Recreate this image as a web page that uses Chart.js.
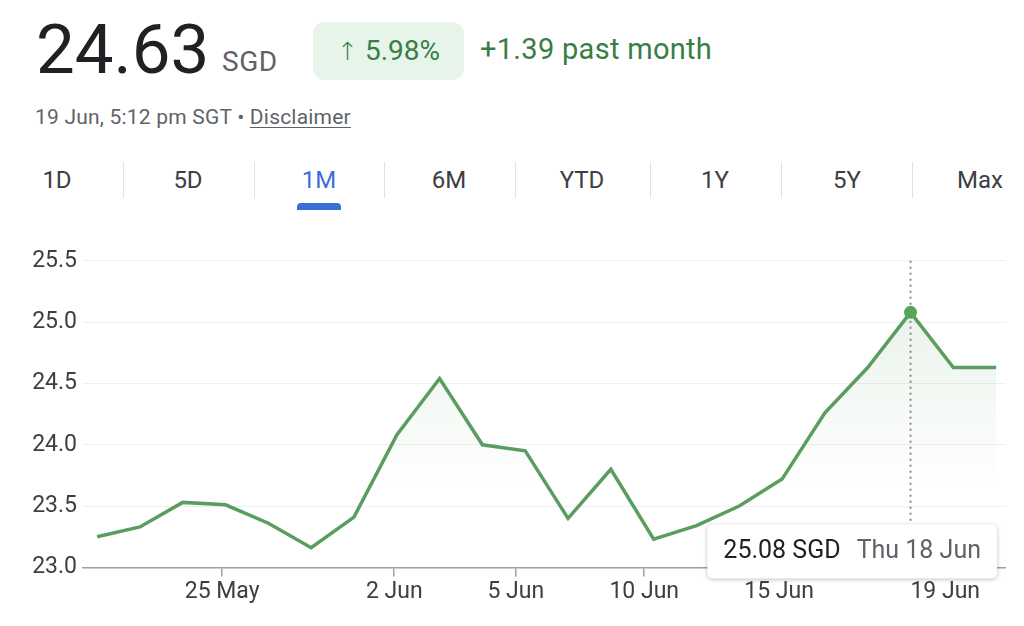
<!DOCTYPE html>
<html>
<head>
<meta charset="utf-8">
<script src="https://cdn.jsdelivr.net/npm/chart.js@4/dist/chart.umd.min.js"></script>
<style>
  html, body { margin: 0; padding: 0; background: #fff; }
  body { width: 1024px; height: 626px; position: relative; overflow: hidden; font-family: Roboto, "Noto Sans", sans-serif; }
  .abs { position: absolute; white-space: nowrap; }
  #price { left: 36px; top: 9px; font-size: 69px; color: #202124; }
  #cur { left: 222px; top: 45px; font-size: 28px; color: #5f6368; letter-spacing: 0.5px; }
  #badge { left: 313px; top: 22px; width: 151px; height: 58px; background: #e6f4ea; border-radius: 12px;
           color: #3a7d44; font-size: 28px; line-height: 58px; text-align: center; }
  #badge .arr { font-family: "DejaVu Sans", sans-serif; font-size: 25px; font-weight: 300; }
  #change { left: 480px; top: 32px; font-size: 29px; color: #3a7d44; letter-spacing: 0.3px; }
  #stamp { left: 35px; top: 105px; font-size: 21px; color: #5f6368; letter-spacing: 0.2px; }
  #stamp u { text-decoration-thickness: 1px; text-underline-offset: 3px; }
  .tab { top: 166px; font-size: 24px; color: #3c4043; transform: translateX(-50%); }
  .sep { top: 162px; width: 1px; height: 36px; background: #e3e3e3; }
  #bar { left: 297px; top: 203px; width: 44px; height: 7px; background: #3b6fd6; border-radius: 4px 4px 0 0; }
  #wrap { position: absolute; left: 0; top: 241px; width: 1006px; height: 367px; }
</style>
</head>
<body>
<div class="abs" id="price">24.63</div>
<div class="abs" id="cur">SGD</div>
<div class="abs" id="badge"><span class="arr">↑</span> 5.98%</div>
<div class="abs" id="change">+1.39 past month</div>
<div class="abs" id="stamp">19 Jun, 5:12 pm SGT • <u>Disclaimer</u></div>
<div id="tabs"></div>
<div class="abs" id="bar"></div>
<div id="wrap"><canvas id="chart"></canvas></div>
<script>
// trading days, 20 May - 19 Jun (last point = live price)
const dates = ['20 May', '21 May', '22 May', '25 May', '26 May', '28 May', '29 May',
  '2 Jun', '3 Jun', '4 Jun', '5 Jun', '8 Jun', '9 Jun', '10 Jun', '11 Jun', '12 Jun',
  '15 Jun', '16 Jun', '17 Jun', '18 Jun', '19 Jun', '19 Jun'];
const prices = [23.25, 23.33, 23.53, 23.51, 23.36, 23.16, 23.41,
  24.08, 24.54, 24.00, 23.95, 23.40, 23.80, 23.23, 23.34,
  23.50, 23.72, 24.26, 24.63, 25.08, 24.63, 24.63];
// x tick labels and where they sit, in trading-day units
const tickLabels = ['25 May', '2 Jun', '5 Jun', '10 Jun', '15 Jun', '19 Jun'];
const tickAt = [2.92, 6.94, 9.78, 12.78, 15.93, 19.81];
const yTicks = [23.0, 23.5, 24.0, 24.5, 25.0, 25.5];
const ranges = ['1D', '5D', '1M', '6M', 'YTD', '1Y', '5Y', 'Max'];
const hoverIdx = 19;
const hoverLabel = 'Thu 18 Jun';

// range tabs
const tabX = [57, 188, 319, 449, 582, 715, 847, 980];
const sepX = [123, 254, 384, 515, 650, 781, 912];
const tabs = document.getElementById('tabs');
ranges.forEach(function(r, i) {
    const d = document.createElement('div');
    d.className = 'abs tab';
    d.style.left = tabX[i] + 'px';
    if (r === '1M') d.style.color = '#3b6fd6';
    d.textContent = r;
    tabs.appendChild(d);
});
sepX.forEach(function(x) {
    const s = document.createElement('div');
    s.className = 'abs sep';
    s.style.left = x + 'px';
    tabs.appendChild(s);
});

const green = '#5a9e5f';
const font = { family: 'Roboto, "Noto Sans", sans-serif', size: 23 };

// dotted hover line, marker and tooltip box
const hoverPlugin = {
    id: 'hover',
    afterDatasetsDraw(chart) {
        const ctx = chart.ctx;
        const area = chart.chartArea;
        const pt = chart.getDatasetMeta(0).data[hoverIdx];
        const boxTop = area.bottom - 43, boxBottom = area.bottom + 11;
        ctx.save();
        ctx.strokeStyle = '#8a8a8a';
        ctx.lineWidth = 2;
        ctx.setLineDash([2, 4]);
        ctx.beginPath();
        ctx.moveTo(pt.x, area.top);
        ctx.lineTo(pt.x, boxTop);
        ctx.stroke();
        ctx.setLineDash([]);
        ctx.fillStyle = '#57a45b';
        ctx.beginPath();
        ctx.arc(pt.x, pt.y, 6.5, 0, Math.PI * 2);
        ctx.fill();

        ctx.font = '25px Roboto, "Noto Sans", sans-serif';
        const t1 = prices[hoverIdx].toFixed(2) + ' SGD';
        const w1 = ctx.measureText(t1).width;
        const w2 = ctx.measureText(hoverLabel).width;
        const right = area.right - 9;
        const left = right - (w1 + w2 + 16 + 32);
        ctx.shadowColor = 'rgba(0,0,0,0.25)';
        ctx.shadowBlur = 4;
        ctx.shadowOffsetY = 1;
        ctx.fillStyle = '#fff';
        ctx.beginPath();
        ctx.roundRect(left, boxTop, right - left, boxBottom - boxTop, 5);
        ctx.fill();
        ctx.shadowColor = 'transparent';
        ctx.textBaseline = 'middle';
        ctx.fillStyle = '#202124';
        const ty = (boxTop + boxBottom) / 2;
        ctx.fillText(t1, left + 16, ty);
        ctx.fillStyle = '#5f6368';
        ctx.fillText(hoverLabel, left + 16 + w1 + 16, ty);
        ctx.restore();
    }
};

const ctx = document.getElementById('chart').getContext('2d');
new Chart(ctx, {
    type: 'line',
    data: {
        datasets: [{
            data: prices.map(function(v, i) { return { x: i, y: v }; }),
            borderColor: green,
            borderWidth: 3.5,
            pointRadius: 0,
            tension: 0,
            fill: 'origin',
            backgroundColor: function(c) {
                const a = c.chart.chartArea;
                if (!a) return 'rgba(90,158,95,0.1)';
                const g = c.chart.ctx.createLinearGradient(0, a.top, 0, a.bottom);
                g.addColorStop(0, 'rgba(90,158,95,0.16)');
                g.addColorStop(0.75, 'rgba(90,158,95,0)');
                return g;
            }
        }]
    },
    options: {
        responsive: true,
        maintainAspectRatio: false,
        animation: false,
        layout: { padding: { top: 0, right: 0 } },
        plugins: { legend: { display: false }, tooltip: { enabled: false } },
        scales: {
            x: {
                type: 'linear',
                min: -0.33,
                max: 21.23,
                afterBuildTicks: function(s) { s.ticks = tickAt.map(function(v) { return { value: v }; }); },
                ticks: {
                    font: font, color: '#3c4043', padding: 2, maxRotation: 0,
                    callback: function(v) { return tickLabels[tickAt.indexOf(v)]; }
                },
                grid: { drawOnChartArea: false, tickLength: 9, color: '#9aa0a6', lineWidth: 1.5 },
                border: { color: '#9aa0a6', width: 1.5 }
            },
            y: {
                min: 23,
                max: 25.5,
                afterBuildTicks: function(s) { s.ticks = yTicks.map(function(v) { return { value: v }; }); },
                afterFit: function(s) { s.width = 83; },
                ticks: {
                    font: font, color: '#3c4043', padding: 6,
                    callback: function(v) { return v.toFixed(1); }
                },
                grid: { color: '#efefef', lineWidth: 1, drawTicks: false },
                border: { display: false }
            }
        }
    },
    plugins: [hoverPlugin]
});
</script>
</body>
</html>
